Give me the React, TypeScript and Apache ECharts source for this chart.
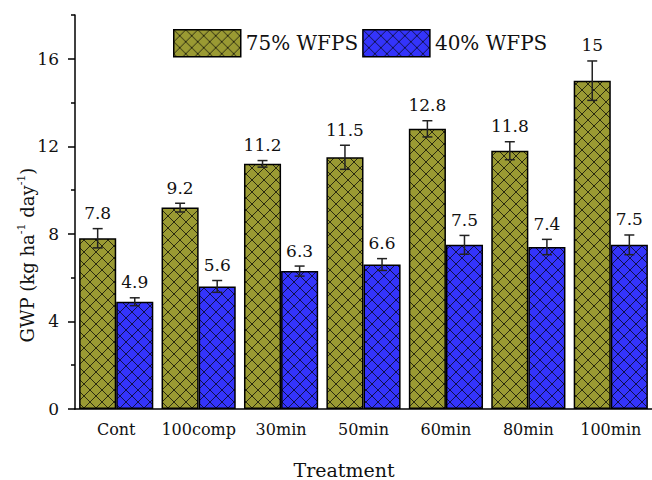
import React, { useEffect, useRef } from "react";
import * as echarts from "echarts";

const categories = ["Cont", "100comp", "30min", "50min", "60min", "80min", "100min"];
const wfps75 = [7.8, 9.2, 11.2, 11.5, 12.8, 11.8, 15];
const wfps40 = [4.9, 5.6, 6.3, 6.6, 7.5, 7.4, 7.5];
const err75 = [0.44, 0.2, 0.15, 0.55, 0.37, 0.41, 0.9];
const err40 = [0.18, 0.27, 0.23, 0.27, 0.43, 0.35, 0.45];
const majorTicks = [0, 4, 8, 12, 16];
const minorTicks = [2, 6, 10, 14, 18];

const FONT = "DejaVu Serif";

function makePattern(bg: string, line: string) {
  const size = 12;
  const c = document.createElement("canvas");
  c.width = size;
  c.height = size;
  const ctx = c.getContext("2d")!;
  ctx.fillStyle = bg;
  ctx.fillRect(0, 0, size, size);
  ctx.strokeStyle = line;
  ctx.lineWidth = 1;
  ctx.beginPath();
  ctx.moveTo(0, 0);
  ctx.lineTo(size, size);
  ctx.moveTo(size, 0);
  ctx.lineTo(0, size);
  ctx.stroke();
  return { image: c, repeat: "repeat", imageWidth: size, imageHeight: size } as any;
}

export default function App() {
  const ref = useRef<HTMLDivElement>(null);
  useEffect(() => {
    if (!ref.current) return;
    const chart = echarts.init(ref.current, null, { renderer: "svg" });
    const olive = makePattern("#9a9a33", "#2a2a10");
    const blue = makePattern("#3434fb", "#10104a");

    const errSeries = (name: string, vals: number[], errs: number[], sign: number) => ({
      type: "custom",
      name: name + "_err",
      xAxisIndex: 0,
      yAxisIndex: 0,
      z: 5,
      silent: true,
      data: vals.map((v, i) => [i, v, errs[i]]),
      renderItem: (params: any, api: any) => {
        const x = api.value(0);
        const v = api.value(1);
        const e = api.value(2);
        const bw = api.size([1, 0])[0];
        const off = (sign * bw * 0.9) / 4;
        const top = api.coord([x, v + e]);
        const bot = api.coord([x, v - e]);
        const cx = top[0] + off;
        const cap = 5;
        const st = { stroke: "#222", lineWidth: 1.5 };
        return {
          type: "group",
          children: [
            { type: "line", shape: { x1: cx, y1: top[1], x2: cx, y2: bot[1] }, style: st },
            { type: "line", shape: { x1: cx - cap, y1: top[1], x2: cx + cap, y2: top[1] }, style: st },
            { type: "line", shape: { x1: cx - cap, y1: bot[1], x2: cx + cap, y2: bot[1] }, style: st },
            {
              type: "text",
              x: cx,
              y: top[1] - 7,
              style: {
                text: String(vals[params.dataIndex]),
                textAlign: "center",
                textVerticalAlign: "bottom",
                fontSize: 17,
                fontFamily: FONT,
                fill: "#111",
              },
            },
          ],
        };
      },
    });

    chart.setOption({
      animation: false,
      grid: { left: 75, top: 15, bottom: 71, right: -2, containLabel: false },
      legend: {
        data: ["75% WFPS", "40% WFPS"],
        left: 173,
        top: 29,
        padding: 0,
        itemWidth: 67,
        itemHeight: 27,
        itemGap: 4,
        icon: "rect",
        itemStyle: { borderColor: "#000", borderWidth: 1.5 },
        textStyle: { fontSize: 20, fontFamily: FONT, color: "#111" },
      },
      xAxis: {
        type: "category",
        data: categories,
        axisLine: { lineStyle: { color: "#000", width: 1.5 } },
        axisTick: { alignWithLabel: true, length: 6, lineStyle: { color: "#000", width: 1.5 } },
        axisLabel: { interval: 0, fontSize: 16, fontFamily: FONT, color: "#111", margin: 12 },
        splitLine: { show: false },
      },
      yAxis: [
        {
          type: "value",
          min: 0,
          max: 18,
          axisLine: { show: true, lineStyle: { color: "#000", width: 1.5 } },
          axisTick: { show: true, length: 7, customValues: majorTicks, lineStyle: { color: "#000", width: 1.5 } },
          axisLabel: { customValues: majorTicks, fontSize: 17, fontFamily: FONT, color: "#111", margin: 16 },
          splitLine: { show: false },
        },
        {
          type: "value",
          min: 0,
          max: 18,
          position: "left",
          axisLine: { show: false },
          axisTick: { show: true, length: 4, customValues: minorTicks, lineStyle: { color: "#000", width: 1.5 } },
          axisLabel: { show: false },
          splitLine: { show: false },
        },
      ],
      graphic: [
        {
          type: "text",
          x: 27,
          y: 255,
          rotation: Math.PI / 2,
          style: {
            text: "{a|GWP (kg ha}{s|-1}{a| day}{s|-1}{a|)}",
            textAlign: "center",
            textVerticalAlign: "middle",
            fill: "#111",
            rich: {
              a: { fontSize: 18, fontFamily: FONT, fill: "#111", lineHeight: 22 },
              s: { fontSize: 11, fontFamily: FONT, fill: "#111", verticalAlign: "top", lineHeight: 22 },
            },
          },
        },
        {
          type: "text",
          x: 344,
          y: 470,
          style: {
            text: "Treatment",
            textAlign: "center",
            textVerticalAlign: "middle",
            fontSize: 19,
            fontFamily: FONT,
            fill: "#111",
          },
        },
      ],
      series: [
        {
          name: "75% WFPS",
          type: "bar",
          data: wfps75,
          barGap: "0%",
          barCategoryGap: "10%",
          itemStyle: { color: olive, borderColor: "#000", borderWidth: 1.5 },
        },
        {
          name: "40% WFPS",
          type: "bar",
          data: wfps40,
          barGap: "0%",
          barCategoryGap: "10%",
          itemStyle: { color: blue, borderColor: "#000", borderWidth: 1.5 },
        },
        errSeries("75% WFPS", wfps75, err75, -1),
        errSeries("40% WFPS", wfps40, err40, 1),
      ],
    } as any);
    return () => chart.dispose();
  }, []);
  return (
    <div
      ref={ref}
      style={{ position: "absolute", left: 0, top: 0, width: 652, height: 480 }}
    />
  );
}
